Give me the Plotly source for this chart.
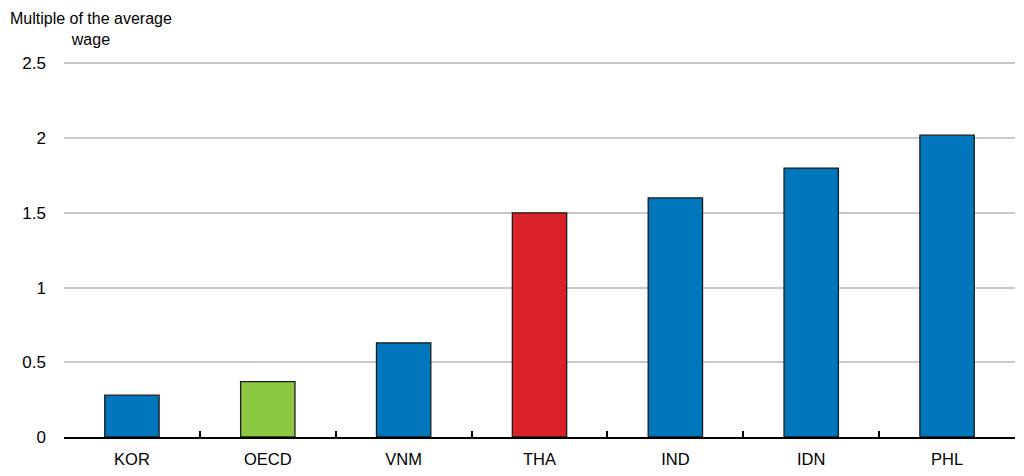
import plotly.graph_objects as go

countries = ["KOR", "OECD", "VNM", "THA", "IND", "IDN", "PHL"]
multiples = [0.28, 0.37, 0.63, 1.50, 1.60, 1.80, 2.02]
bar_colors = ["#0077BD", "#8CC841", "#0077BD", "#DA2128", "#0077BD", "#0077BD", "#0077BD"]

y_ticks = [0, 0.5, 1, 1.5, 2, 2.5]
y_tick_text = ["0", "0.5", "1", "1.5", "2", "2.5"]

fig = go.Figure()
fig.add_trace(
    go.Bar(
        x=countries,
        y=multiples,
        marker=dict(color=bar_colors, line=dict(color="#1a1a1a", width=1.3)),
        width=0.4,
    )
)

fig.update_layout(
    width=1024,
    height=476,
    margin=dict(l=64, r=9, t=59, b=39),
    paper_bgcolor="white",
    plot_bgcolor="white",
    font=dict(family="Liberation Sans, Arial, sans-serif", size=16, color="black"),
    showlegend=False,
    bargap=0.6,
)

fig.update_xaxes(
    showline=True,
    linecolor="black",
    linewidth=1.5,
    ticks="inside",
    tickson="boundaries",
    ticklen=6,
    tickcolor="black",
    tickwidth=1.5,
    showgrid=False,
    ticklabelstandoff=6,
    tickfont=dict(size=16.5),
)

# range a bit past 2.5 so the top gridline is drawn
fig.update_yaxes(
    range=[0, 2.53],
    tickvals=y_ticks,
    ticktext=y_tick_text,
    showgrid=True,
    gridcolor="#C8C8C8",
    gridwidth=1.5,
    zeroline=False,
    showline=False,
    ticks="",
    ticklabelstandoff=17,
    tickfont=dict(size=17),
)

fig.add_annotation(
    text="Multiple of the average<br>wage",
    xref="paper",
    yref="paper",
    x=-0.059,
    y=1.0,
    yshift=51,
    xanchor="left",
    yanchor="top",
    showarrow=False,
    align="center",
    font=dict(size=16),
)

fig.write_html(
    "out.html",
    config={"displayModeBar": False},
    post_script="document.body.style.margin='0';",
)
